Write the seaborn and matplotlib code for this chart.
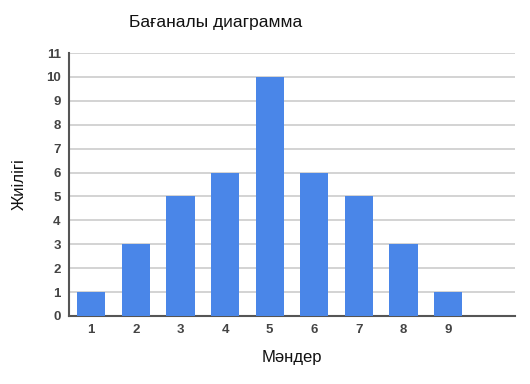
import seaborn as sns
import pandas as pd
import matplotlib.pyplot as plt

values = ["1", "2", "3", "4", "5", "6", "7", "8", "9"]
freq = [1, 3, 5, 6, 10, 6, 5, 3, 1]

sns.set_theme(style="white")
plt.rcParams['font.family'] = ['Liberation Sans', 'DejaVu Sans']

data = pd.DataFrame({"Мәндер": values, "Жиілігі": freq})

fig = plt.figure(figsize=(5.3, 3.84), dpi=100)
ax = fig.add_axes([69 / 530, 1 - 316 / 384, (515 - 69) / 530, (316 - 53) / 384])

sns.barplot(data=data, x="Мәндер", y="Жиілігі", color="#4a86e8",
            saturation=1, width=0.63, linewidth=0, ax=ax, zorder=3)

ax.set_xlim(-0.5, 9.5)
ax.set_ylim(0, 11)
ax.set_yticks(range(0, 12))
ax.yaxis.grid(True, color="#cccccc", linewidth=1.2, zorder=0)
ax.set_axisbelow(True)
for side in ["top", "right"]:
    ax.spines[side].set_visible(False)
for side in ["left", "bottom"]:
    ax.spines[side].set_color("#555555")
    ax.spines[side].set_linewidth(1.5)
ax.tick_params(axis="both", length=0, labelsize=9.5, labelcolor="#444444", pad=6)
for lbl in ax.get_xticklabels() + ax.get_yticklabels():
    lbl.set_fontweight("bold")

ax.set_xlabel("Мәндер", fontsize=12, color="#111111", labelpad=10)
ax.set_ylabel("Жиілігі", fontsize=12, color="#111111", labelpad=14)
fig.text(216 / 530, 1 - 22 / 384, "Бағаналы диаграмма", ha="center", va="center",
         fontsize=12.5, color="#111111")

plt.savefig("out.png", dpi=100)
